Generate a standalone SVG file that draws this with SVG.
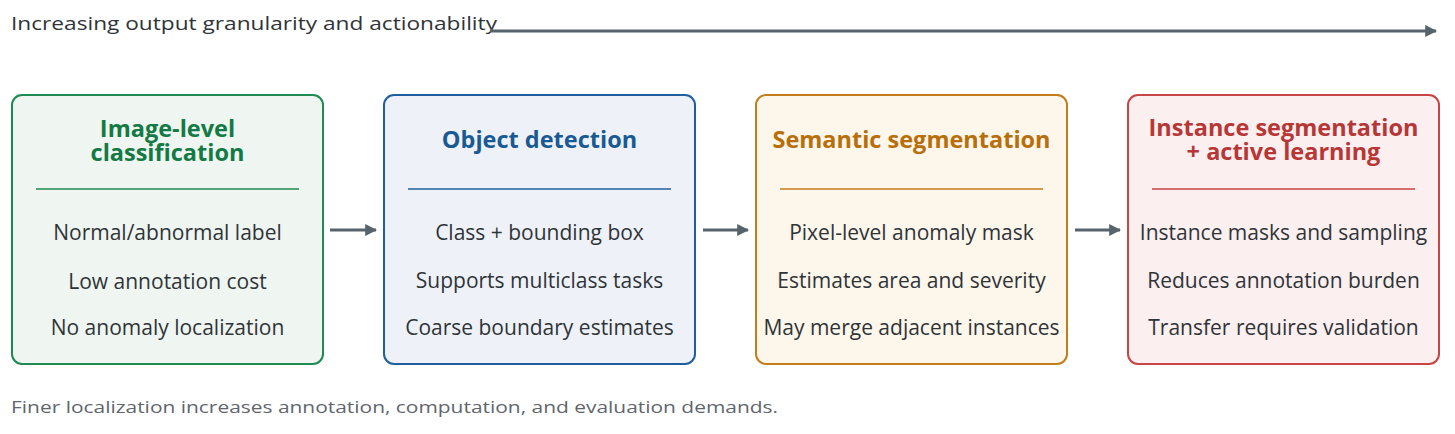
<svg xmlns="http://www.w3.org/2000/svg" width="1455" height="434" viewBox="0 0 1455 434">
<style>
.box{stroke-width:2}
.title{font-family:"Open Sans","Liberation Sans",sans-serif;font-weight:bold;font-size:23.5px;text-anchor:middle}
.body{font-family:"Open Sans","Liberation Sans",sans-serif;font-size:21px;fill:#2f3439;text-anchor:middle}
.sep{stroke-width:1.5}
.conn{stroke:#56636d;stroke-width:3;fill:none}
.cap{font-family:"Open Sans","Liberation Sans",sans-serif}
</style>
<defs>
<marker id="ah" viewBox="0 0 10 10" refX="9" refY="5" markerWidth="4" markerHeight="4" orient="auto" markerUnits="strokeWidth">
<path d="M0,0 L10,5 L0,10 Z" fill="#56636d"/>
</marker>
</defs>
<rect width="1455" height="434" fill="#ffffff"/>
<text class="cap" x="11" y="30" font-size="19" fill="#2f3439" textLength="486" lengthAdjust="spacingAndGlyphs">Increasing output granularity and actionability</text>
<g id="connectors">
<line class="conn" x1="490" y1="31" x2="1436" y2="31" marker-end="url(#ah)"/>
<line class="conn" x1="330" y1="230" x2="376" y2="230" marker-end="url(#ah)"/>
<line class="conn" x1="703" y1="230" x2="748" y2="230" marker-end="url(#ah)"/>
<line class="conn" x1="1075" y1="230" x2="1120" y2="230" marker-end="url(#ah)"/>
</g>
<g id="node-classification">
<rect class="box" x="12" y="95" width="311" height="269" rx="10" fill="#eff5f0" stroke="#1f8a52"/>
<text class="title" fill="#137a45"><tspan x="167.5" y="137">Image-level</tspan><tspan x="167.5" y="161">classification</tspan></text>
<line class="sep" x1="36" y1="189" x2="299" y2="189" stroke="#1f8a52"/>
<text class="body" x="167.5" y="240">Normal/abnormal label</text>
<text class="body" x="167.5" y="289">Low annotation cost</text>
<text class="body" x="167.5" y="335">No anomaly localization</text>
</g>
<g id="node-detection">
<rect class="box" x="384" y="95" width="311" height="269" rx="10" fill="#eef2f8" stroke="#1f5f9e"/>
<text class="title" x="539.5" y="148" fill="#1a5a94">Object detection</text>
<line class="sep" x1="408" y1="189" x2="671" y2="189" stroke="#1f5f9e"/>
<text class="body" x="539.5" y="240">Class + bounding box</text>
<text class="body" x="539.5" y="288">Supports multiclass tasks</text>
<text class="body" x="539.5" y="335">Coarse boundary estimates</text>
</g>
<g id="node-semantic">
<rect class="box" x="756" y="95" width="311" height="269" rx="10" fill="#fdf6ea" stroke="#c47d1c"/>
<text class="title" x="911.5" y="148" fill="#b86e0a">Semantic segmentation</text>
<line class="sep" x1="780" y1="189" x2="1043" y2="189" stroke="#c47d1c"/>
<text class="body" x="911.5" y="240">Pixel-level anomaly mask</text>
<text class="body" x="911.5" y="288">Estimates area and severity</text>
<text class="body" x="911.5" y="335">May merge adjacent instances</text>
</g>
<g id="node-instance">
<rect class="box" x="1128" y="95" width="311" height="269" rx="10" fill="#fbefef" stroke="#c94444"/>
<text class="title" fill="#b83636"><tspan x="1283.5" y="136">Instance segmentation</tspan><tspan x="1283.5" y="160">+ active learning</tspan></text>
<line class="sep" x1="1152" y1="189" x2="1415" y2="189" stroke="#c94444"/>
<text class="body" x="1283.5" y="240">Instance masks and sampling</text>
<text class="body" x="1283.5" y="288">Reduces annotation burden</text>
<text class="body" x="1283.5" y="335">Transfer requires validation</text>
</g>
<text class="cap" x="11" y="413" font-size="16" fill="#5f666c" textLength="767" lengthAdjust="spacingAndGlyphs">Finer localization increases annotation, computation, and evaluation demands.</text>
</svg>
